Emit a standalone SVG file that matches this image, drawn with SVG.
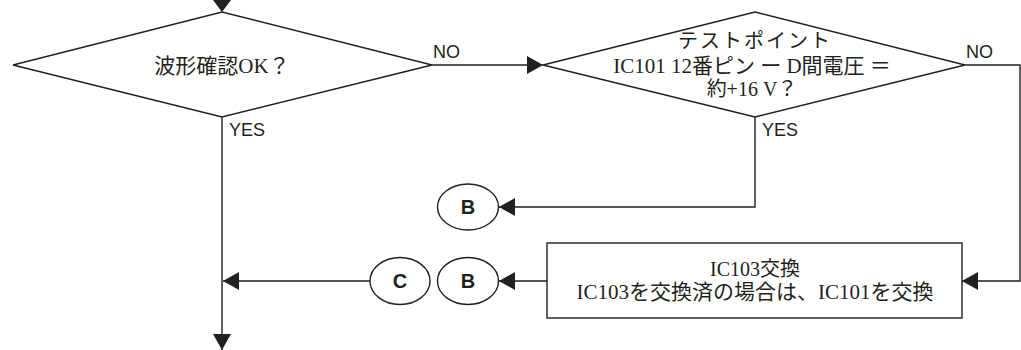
<svg xmlns="http://www.w3.org/2000/svg" width="1021" height="350" viewBox="0 0 1021 350">
<defs>
<style>
.shape{fill:#fff;stroke:#231f20;stroke-width:1.4}
.conn{fill:none;stroke:#231f20;stroke-width:1.4}
.conn2{fill:none;stroke:#555;stroke-width:1.8}
.jp{font-family:"Liberation Serif","Noto Sans CJK JP",serif;font-size:21px;fill:#231f20;text-anchor:middle}
.jp2{font-family:"Liberation Serif","Noto Sans CJK JP",serif;font-size:20px;fill:#231f20;text-anchor:middle}
.lbl{font-family:"Liberation Sans",Arial,sans-serif;font-size:18px;fill:#231f20}
.ref{font-family:"Liberation Sans",Arial,sans-serif;font-size:20px;font-weight:bold;fill:#231f20;text-anchor:middle}
</style>
<marker id="ah" markerUnits="userSpaceOnUse" markerWidth="16" markerHeight="18" refX="16" refY="9" orient="auto" viewBox="0 0 16 18">
<path d="M0,0 L16,9 L0,18 z" fill="#231f20"/>
</marker>
</defs>
<g id="connectors">
<polygon points="213,0 231,0 222,12" fill="#231f20"/>
<line class="conn" x1="432" y1="65" x2="543" y2="65" marker-end="url(#ah)"/>
<line class="conn" x1="222" y1="117" x2="222" y2="350" marker-end="url(#ah)"/>
<polyline class="conn" points="755,117 755,207 499,207" marker-end="url(#ah)"/>
<polyline class="conn" points="965,65 1020,65 1020,281 962,281" marker-end="url(#ah)"/>
<line class="conn2" x1="547" y1="281" x2="499" y2="281" marker-end="url(#ah)"/>
<line class="conn2" x1="370" y1="281" x2="223" y2="281" marker-end="url(#ah)"/>
<text class="lbl" x="433" y="58">NO</text>
<text class="lbl" x="229" y="136">YES</text>
<text class="lbl" x="966" y="58">NO</text>
<text class="lbl" x="762" y="136">YES</text>
</g>
<g id="decision1">
<polygon class="shape" points="13,65 222,12 432,65 222,117"/>
<text class="jp" x="222" y="73">波形確認OK？</text>
</g>
<g id="decision2">
<polygon class="shape" points="543,65 755,12 965,65 755,117"/>
<text class="jp2" x="755" y="48" letter-spacing="2">テストポイント</text>
<text class="jp" x="752" y="73">IC101 12番ピン ー D間電圧 ＝</text>
<text class="jp2" x="752" y="96">約+16 V？</text>
</g>
<g id="process">
<rect class="shape" x="547" y="243" width="415" height="75"/>
<text class="jp2" x="755" y="276">IC103交換</text>
<text class="jp" x="755" y="299">IC103を交換済の場合は、IC101を交換</text>
</g>
<g id="refB1">
<ellipse class="shape" cx="468" cy="207" rx="30.5" ry="23"/>
<text class="ref" x="468" y="214">B</text>
</g>
<g id="refB2">
<ellipse class="shape" cx="468" cy="281" rx="30.5" ry="23.5"/>
<text class="ref" x="468" y="288">B</text>
</g>
<g id="refC">
<ellipse class="shape" cx="400" cy="281" rx="30" ry="23.5"/>
<text class="ref" x="400" y="288">C</text>
</g>
</svg>
